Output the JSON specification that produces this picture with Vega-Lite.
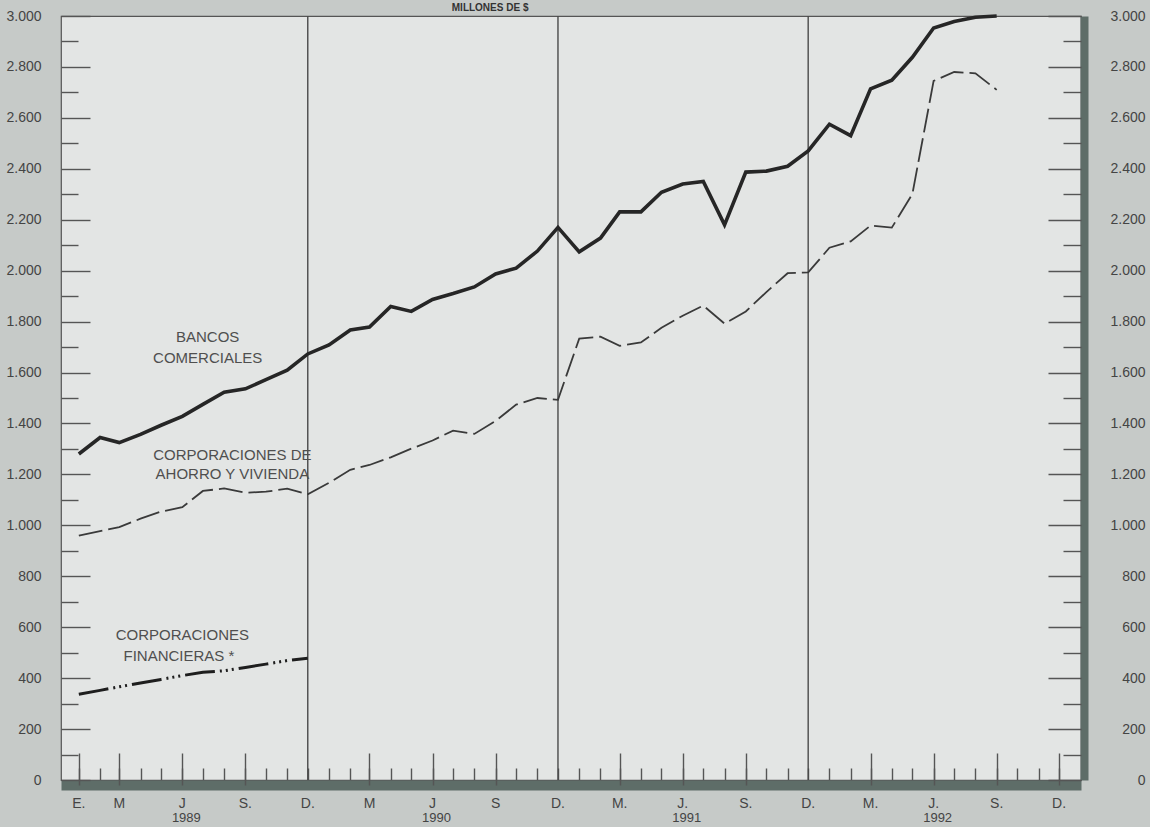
{
  "$schema": "https://vega.github.io/schema/vega-lite/v6.json",
  "width": 1020,
  "height": 764,
  "autosize": {"type": "none"},
  "padding": {"left": 61, "top": 16, "right": 69, "bottom": 47},
  "background": "#c6cac8",
  "config": {
    "font": "Liberation Sans",
    "view": {"fill": "#e3e5e4", "stroke": "#555555", "strokeWidth": 1.2}
  },
  "datasets": {
    "bancos": [
      {"date": "1989-01-01", "value": 1280}, {"date": "1989-02-01", "value": 1345}, {"date": "1989-03-01", "value": 1325},
      {"date": "1989-04-01", "value": 1357}, {"date": "1989-05-01", "value": 1393}, {"date": "1989-06-01", "value": 1428},
      {"date": "1989-07-01", "value": 1475}, {"date": "1989-08-01", "value": 1523}, {"date": "1989-09-01", "value": 1536},
      {"date": "1989-10-01", "value": 1572}, {"date": "1989-11-01", "value": 1609}, {"date": "1989-12-01", "value": 1673},
      {"date": "1990-01-01", "value": 1708}, {"date": "1990-02-01", "value": 1767}, {"date": "1990-03-01", "value": 1779},
      {"date": "1990-04-01", "value": 1859}, {"date": "1990-05-01", "value": 1840}, {"date": "1990-06-01", "value": 1887},
      {"date": "1990-07-01", "value": 1910}, {"date": "1990-08-01", "value": 1936}, {"date": "1990-09-01", "value": 1987},
      {"date": "1990-10-01", "value": 2010}, {"date": "1990-11-01", "value": 2077}, {"date": "1990-12-01", "value": 2170},
      {"date": "1991-01-01", "value": 2074}, {"date": "1991-02-01", "value": 2128}, {"date": "1991-03-01", "value": 2231},
      {"date": "1991-04-01", "value": 2231}, {"date": "1991-05-01", "value": 2308}, {"date": "1991-06-01", "value": 2340},
      {"date": "1991-07-01", "value": 2350}, {"date": "1991-08-01", "value": 2180}, {"date": "1991-09-01", "value": 2387},
      {"date": "1991-10-01", "value": 2391}, {"date": "1991-11-01", "value": 2410}, {"date": "1991-12-01", "value": 2470},
      {"date": "1992-01-01", "value": 2575}, {"date": "1992-02-01", "value": 2530}, {"date": "1992-03-01", "value": 2714},
      {"date": "1992-04-01", "value": 2748}, {"date": "1992-05-01", "value": 2838}, {"date": "1992-06-01", "value": 2953},
      {"date": "1992-07-01", "value": 2978}, {"date": "1992-08-01", "value": 2995}, {"date": "1992-09-01", "value": 3000}
    ],
    "ahorro": [
      {"date": "1989-01-01", "value": 960}, {"date": "1989-02-01", "value": 977}, {"date": "1989-03-01", "value": 993},
      {"date": "1989-04-01", "value": 1026}, {"date": "1989-05-01", "value": 1054}, {"date": "1989-06-01", "value": 1071},
      {"date": "1989-07-01", "value": 1135}, {"date": "1989-08-01", "value": 1145}, {"date": "1989-09-01", "value": 1128},
      {"date": "1989-10-01", "value": 1132}, {"date": "1989-11-01", "value": 1144}, {"date": "1989-12-01", "value": 1122},
      {"date": "1990-01-01", "value": 1167}, {"date": "1990-02-01", "value": 1218}, {"date": "1990-03-01", "value": 1237},
      {"date": "1990-04-01", "value": 1267}, {"date": "1990-05-01", "value": 1301}, {"date": "1990-06-01", "value": 1333},
      {"date": "1990-07-01", "value": 1372}, {"date": "1990-08-01", "value": 1359}, {"date": "1990-09-01", "value": 1410},
      {"date": "1990-10-01", "value": 1474}, {"date": "1990-11-01", "value": 1500}, {"date": "1990-12-01", "value": 1493},
      {"date": "1991-01-01", "value": 1733}, {"date": "1991-02-01", "value": 1741}, {"date": "1991-03-01", "value": 1705},
      {"date": "1991-04-01", "value": 1718}, {"date": "1991-05-01", "value": 1776}, {"date": "1991-06-01", "value": 1823},
      {"date": "1991-07-01", "value": 1863}, {"date": "1991-08-01", "value": 1792}, {"date": "1991-09-01", "value": 1840},
      {"date": "1991-10-01", "value": 1916}, {"date": "1991-11-01", "value": 1990}, {"date": "1991-12-01", "value": 1993},
      {"date": "1992-01-01", "value": 2090}, {"date": "1992-02-01", "value": 2115}, {"date": "1992-03-01", "value": 2177},
      {"date": "1992-04-01", "value": 2169}, {"date": "1992-05-01", "value": 2301}, {"date": "1992-06-01", "value": 2745},
      {"date": "1992-07-01", "value": 2780}, {"date": "1992-08-01", "value": 2775}, {"date": "1992-09-01", "value": 2710}
    ],
    "financieras": [
      {"date": "1989-01-01", "value": 337}, {"date": "1989-02-01", "value": 352}, {"date": "1989-03-01", "value": 366},
      {"date": "1989-04-01", "value": 381}, {"date": "1989-05-01", "value": 395}, {"date": "1989-06-01", "value": 410},
      {"date": "1989-07-01", "value": 423}, {"date": "1989-08-01", "value": 429}, {"date": "1989-09-01", "value": 442},
      {"date": "1989-10-01", "value": 455}, {"date": "1989-11-01", "value": 469}, {"date": "1989-12-01", "value": 478}
    ],
    "decs": [{"date": "1989-12-01"}, {"date": "1990-12-01"}, {"date": "1991-12-01"}],
    "months": [
      {"date": "1989-01-01", "label": "E."}, {"date": "1989-03-01", "label": "M"}, {"date": "1989-06-01", "label": "J"},
      {"date": "1989-09-01", "label": "S."}, {"date": "1989-12-01", "label": "D."},
      {"date": "1990-03-01", "label": "M"}, {"date": "1990-06-01", "label": "J"}, {"date": "1990-09-01", "label": "S"},
      {"date": "1990-12-01", "label": "D."},
      {"date": "1991-03-01", "label": "M."}, {"date": "1991-06-01", "label": "J."}, {"date": "1991-09-01", "label": "S."},
      {"date": "1991-12-01", "label": "D."},
      {"date": "1992-03-01", "label": "M."}, {"date": "1992-06-01", "label": "J."}, {"date": "1992-09-01", "label": "S."},
      {"date": "1992-12-01", "label": "D."}
    ],
    "years": [
      {"date": "1989-06-01", "label": "1989"}, {"date": "1990-06-01", "label": "1990"},
      {"date": "1991-06-01", "label": "1991"}, {"date": "1992-06-01", "label": "1992"}
    ],
    "notes": [
      {"date": "1989-07-08", "value": 1741, "text": "BANCOS"},
      {"date": "1989-07-08", "value": 1659, "text": "COMERCIALES"},
      {"date": "1989-08-13", "value": 1277, "text": "CORPORACIONES DE"},
      {"date": "1989-08-13", "value": 1200, "text": "AHORRO Y VIVIENDA"},
      {"date": "1989-06-01", "value": 569, "text": "CORPORACIONES"},
      {"date": "1989-05-27", "value": 486, "text": "FINANCIERAS *"}
    ]
  },
  "resolve": {"axis": {"x": "independent", "y": "independent"}},
  "layer": [
    {
      "data": {"name": "decs"},
      "mark": {"type": "rule", "color": "#4a4a4a", "strokeWidth": 1.4},
      "encoding": {
        "x": {
          "field": "date", "type": "temporal",
          "scale": {"type": "utc", "domain": [{"year": 1988, "month": 12, "date": 6, "utc": true}, {"year": 1993, "month": 1, "date": 2, "utc": true}]},
          "axis": {
            "orient": "bottom", "title": null, "labels": false, "grid": false,
            "values": [
              {"year": 1989, "month": 1, "utc": true}, {"year": 1989, "month": 2, "utc": true}, {"year": 1989, "month": 3, "utc": true}, {"year": 1989, "month": 4, "utc": true},
              {"year": 1989, "month": 5, "utc": true}, {"year": 1989, "month": 6, "utc": true}, {"year": 1989, "month": 7, "utc": true}, {"year": 1989, "month": 8, "utc": true},
              {"year": 1989, "month": 9, "utc": true}, {"year": 1989, "month": 10, "utc": true}, {"year": 1989, "month": 11, "utc": true}, {"year": 1989, "month": 12, "utc": true},
              {"year": 1990, "month": 1, "utc": true}, {"year": 1990, "month": 2, "utc": true}, {"year": 1990, "month": 3, "utc": true}, {"year": 1990, "month": 4, "utc": true},
              {"year": 1990, "month": 5, "utc": true}, {"year": 1990, "month": 6, "utc": true}, {"year": 1990, "month": 7, "utc": true}, {"year": 1990, "month": 8, "utc": true},
              {"year": 1990, "month": 9, "utc": true}, {"year": 1990, "month": 10, "utc": true}, {"year": 1990, "month": 11, "utc": true}, {"year": 1990, "month": 12, "utc": true},
              {"year": 1991, "month": 1, "utc": true}, {"year": 1991, "month": 2, "utc": true}, {"year": 1991, "month": 3, "utc": true}, {"year": 1991, "month": 4, "utc": true},
              {"year": 1991, "month": 5, "utc": true}, {"year": 1991, "month": 6, "utc": true}, {"year": 1991, "month": 7, "utc": true}, {"year": 1991, "month": 8, "utc": true},
              {"year": 1991, "month": 9, "utc": true}, {"year": 1991, "month": 10, "utc": true}, {"year": 1991, "month": 11, "utc": true}, {"year": 1991, "month": 12, "utc": true},
              {"year": 1992, "month": 1, "utc": true}, {"year": 1992, "month": 2, "utc": true}, {"year": 1992, "month": 3, "utc": true}, {"year": 1992, "month": 4, "utc": true},
              {"year": 1992, "month": 5, "utc": true}, {"year": 1992, "month": 6, "utc": true}, {"year": 1992, "month": 7, "utc": true}, {"year": 1992, "month": 8, "utc": true},
              {"year": 1992, "month": 9, "utc": true}, {"year": 1992, "month": 10, "utc": true}, {"year": 1992, "month": 11, "utc": true}, {"year": 1992, "month": 12, "utc": true}
            ],
            "ticks": true, "tickSize": -17, "tickColor": "#555555", "tickWidth": 1.4,
            "domain": true, "domainColor": "#5e6d68", "domainWidth": 10, "domainCap": "butt", "offset": 5
          }
        }
      }
    },
    {
      "data": {"name": "bancos"},
      "mark": {"type": "line", "color": "#262626", "strokeWidth": 3.6, "strokeJoin": "miter"},
      "encoding": {
        "x": {
          "field": "date", "type": "temporal",
          "axis": {
            "orient": "bottom", "title": null, "labels": false, "grid": false, "domain": false,
            "values": [
              {"year": 1989, "month": 1, "utc": true}, {"year": 1989, "month": 3, "utc": true}, {"year": 1989, "month": 6, "utc": true}, {"year": 1989, "month": 9, "utc": true},
              {"year": 1990, "month": 3, "utc": true}, {"year": 1990, "month": 6, "utc": true}, {"year": 1990, "month": 9, "utc": true},
              {"year": 1991, "month": 3, "utc": true}, {"year": 1991, "month": 6, "utc": true}, {"year": 1991, "month": 9, "utc": true},
              {"year": 1992, "month": 3, "utc": true}, {"year": 1992, "month": 6, "utc": true}, {"year": 1992, "month": 9, "utc": true}, {"year": 1992, "month": 12, "utc": true}
            ],
            "ticks": true, "tickSize": -32, "tickColor": "#555555", "tickWidth": 1.4, "offset": 5
          }
        },
        "y": {
          "field": "value", "type": "quantitative",
          "scale": {"domain": [0, 3000], "nice": false, "zero": true},
          "axis": {
            "orient": "left", "title": null, "grid": false, "ticks": false, "domain": false,
            "values": [0, 200, 400, 600, 800, 1000, 1200, 1400, 1600, 1800, 2000, 2200, 2400, 2600, 2800, 3000],
            "labelExpr": "replace(format(datum.value, ','), ',', '.')",
            "labelPadding": 20, "labelFontSize": 14, "labelColor": "#444444",
            "labelFlush": false, "labelOverlap": false, "labelBaseline": "middle"
          }
        }
      }
    },
    {
      "data": {"name": "ahorro"},
      "mark": {"type": "line", "color": "#3a3a3a", "strokeWidth": 1.8, "strokeDash": [24, 6]},
      "encoding": {
        "x": {"field": "date", "type": "temporal", "axis": null},
        "y": {
          "field": "value", "type": "quantitative",
          "axis": {
            "orient": "left", "title": null, "grid": false, "labels": false, "domain": false,
            "values": [0, 200, 400, 600, 800, 1000, 1200, 1400, 1600, 1800, 2000, 2200, 2400, 2600, 2800, 3000],
            "tickSize": -29, "tickColor": "#555555", "tickWidth": 1.4
          }
        }
      }
    },
    {
      "data": {"name": "financieras"},
      "mark": {"type": "line", "color": "#1e1e1e", "strokeWidth": 3, "strokeDash": [30, 5, 2, 4, 2, 4, 2, 5]},
      "encoding": {
        "x": {"field": "date", "type": "temporal", "axis": null},
        "y": {
          "field": "value", "type": "quantitative",
          "axis": {
            "orient": "left", "title": null, "grid": false, "labels": false, "domain": false,
            "values": [100, 300, 500, 700, 900, 1100, 1300, 1500, 1700, 1900, 2100, 2300, 2500, 2700, 2900],
            "tickSize": -17, "tickColor": "#555555", "tickWidth": 1.4
          }
        }
      }
    },
    {
      "data": {"name": "notes"},
      "mark": {"type": "text", "fontSize": 15, "color": "#4f4f4f", "align": "center", "baseline": "middle"},
      "encoding": {
        "x": {"field": "date", "type": "temporal", "axis": null},
        "y": {
          "field": "value", "type": "quantitative",
          "axis": {
            "orient": "right", "title": null, "grid": false, "ticks": false,
            "values": [0, 200, 400, 600, 800, 1000, 1200, 1400, 1600, 1800, 2000, 2200, 2400, 2600, 2800, 3000],
            "labelExpr": "replace(format(datum.value, ','), ',', '.')",
            "labelAlign": "right", "labelPadding": 61, "labelFontSize": 14, "labelColor": "#444444",
            "labelFlush": false, "labelOverlap": false, "labelBaseline": "middle",
            "domain": true, "domainColor": "#5e6d68", "domainWidth": 8, "domainCap": "butt", "offset": 3
          }
        },
        "text": {"field": "text"}
      }
    },
    {
      "data": {"name": "months"},
      "mark": {"type": "text", "fontSize": 14, "color": "#444444", "align": "center", "baseline": "middle", "dy": 24},
      "encoding": {
        "x": {"field": "date", "type": "temporal", "axis": null},
        "y": {
          "datum": 0, "type": "quantitative",
          "axis": {
            "orient": "right", "title": null, "grid": false, "labels": false, "domain": false,
            "values": [0, 200, 400, 600, 800, 1000, 1200, 1400, 1600, 1800, 2000, 2200, 2400, 2600, 2800, 3000],
            "tickSize": -33, "tickColor": "#555555", "tickWidth": 1.4
          }
        },
        "text": {"field": "label"}
      }
    },
    {
      "data": {"name": "years"},
      "mark": {"type": "text", "fontSize": 13, "color": "#444444", "align": "center", "baseline": "middle", "dy": 38, "dx": 4},
      "encoding": {
        "x": {"field": "date", "type": "temporal", "axis": null},
        "y": {
          "datum": 0, "type": "quantitative",
          "axis": {
            "orient": "right", "title": null, "grid": false, "labels": false, "domain": false,
            "values": [100, 300, 500, 700, 900, 1100, 1300, 1500, 1700, 1900, 2100, 2300, 2500, 2700, 2900],
            "tickSize": -18, "tickColor": "#555555", "tickWidth": 1.4
          }
        },
        "text": {"field": "label"}
      }
    },
    {
      "data": {"values": [{"date": "1990-08-24", "value": 3000, "text": "MILLONES DE $"}]},
      "mark": {"type": "text", "fontSize": 10, "fontWeight": "bold", "color": "#333333", "align": "center", "baseline": "alphabetic", "dy": -5},
      "encoding": {
        "x": {"field": "date", "type": "temporal", "axis": null},
        "y": {"field": "value", "type": "quantitative", "axis": null},
        "text": {"field": "text"}
      }
    }
  ]
}
